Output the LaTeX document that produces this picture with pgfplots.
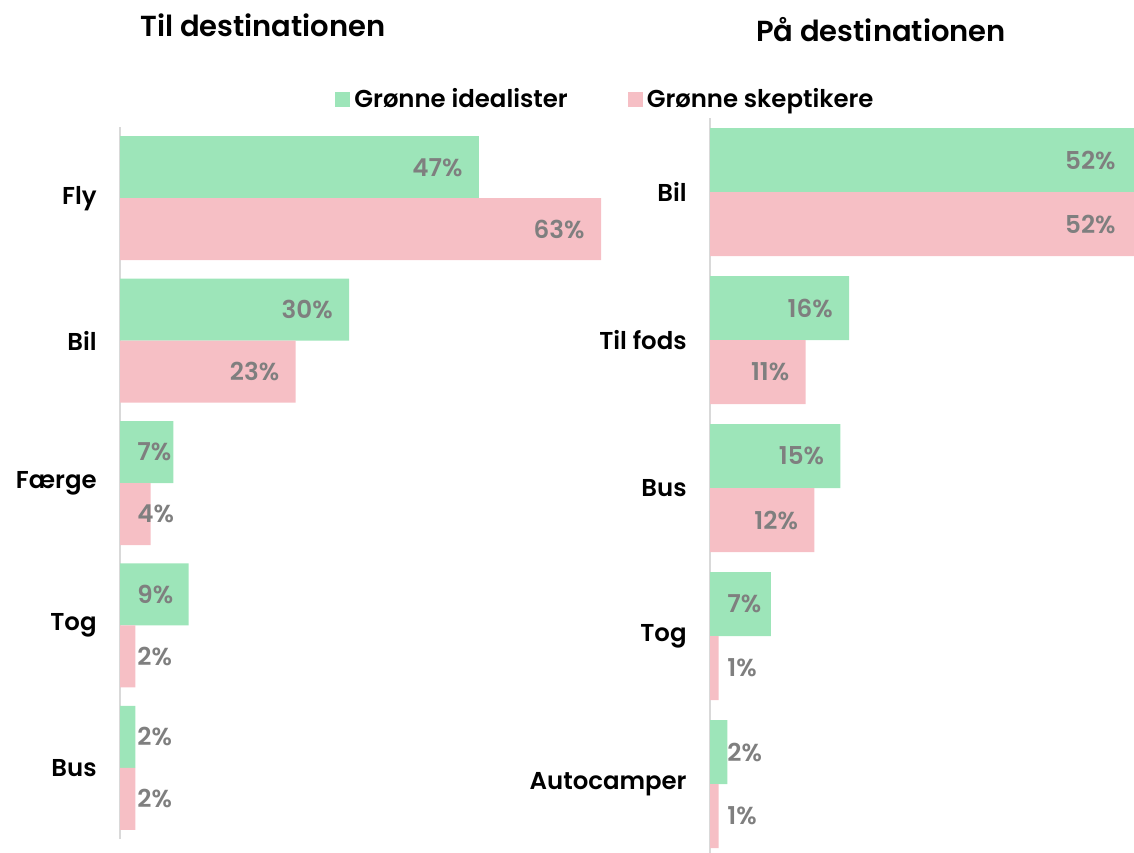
\documentclass[border=0pt]{standalone}
\usepackage{fontspec}
\setmainfont{Poppins}[BoldFont={Poppins SemiBold}]
\usepackage{pgfplots}
\pgfplotsset{compat=1.18}
\definecolor{idealgreen}{HTML}{9DE5B9}
\definecolor{skeppink}{HTML}{F6BFC5}
\definecolor{valgray}{HTML}{7F7F7F}
\definecolor{axisgray}{HTML}{D9D9D9}

\pgfplotsset{
  panel/.style={
    scale only axis, xmin=0, ymin=-0.5, ymax=4.5,
    hide x axis, axis y line*=left,
    y axis line style={draw=axisgray,line width=1pt,-},
    major tick length=0pt, ytick={0,1,2,3,4},
    yticklabel style={font=\bfseries\fontsize{12.2}{14}\selectfont,inner sep=0pt,xshift=-11.5pt},
    clip=false},
  endlab/.style={draw=none,mark=none,nodes near coords,point meta=explicit symbolic,
    nodes near coords style={font=\bfseries\fontsize{12.3}{14}\selectfont,text=valgray,inner sep=0pt,anchor=east,xshift=-8pt,yshift=#1}},
  startlab/.style={draw=none,mark=none,nodes near coords,point meta=explicit symbolic,
    nodes near coords style={font=\bfseries\fontsize{12.3}{14}\selectfont,text=valgray,inner sep=0pt,anchor=west,xshift=8.5pt,yshift=#1}},
}

\begin{document}
\begin{tikzpicture}
% left panel: Til destinationen
\begin{axis}[panel, at={(60pt,-63.5pt)}, anchor=north west,
  width=240.5pt, height=356pt, xmax=63,
  yticklabels={Bus,Tog,Færge,Bil,Fly},
  legend style={at={(0.447,1.039)},anchor=west,draw=none,fill=none,inner sep=0pt,
    font=\bfseries\fontsize{12.2}{14}\selectfont,
    /tikz/every even column/.append style={column sep=28pt}},
  legend columns=2,
  legend image code/.code={\fill[#1] (0pt,-3.75pt) rectangle (7.5pt,3.75pt);}]
  \addplot[xbar,bar width=31pt,bar shift=15.5pt,fill=idealgreen,draw=none]
    coordinates {(47,4) (30,3) (7,2) (9,1) (2,0)};
  \addlegendentry{Grønne idealister}
  \addplot[xbar,bar width=31pt,bar shift=-15.5pt,fill=skeppink,draw=none]
    coordinates {(63,4) (23,3) (4,2) (2,1) (2,0)};
  \addlegendentry{Grønne skeptikere}
  \addplot[endlab=15.5pt,forget plot] coordinates {(47,4)[47\%] (30,3)[30\%]};
  \addplot[startlab=15.5pt,forget plot] coordinates {(0,2)[7\%] (0,1)[9\%] (0,0)[2\%]};
  \addplot[endlab=-15.5pt,forget plot] coordinates {(63,4)[63\%] (23,3)[23\%]};
  \addplot[startlab=-15.5pt,forget plot] coordinates {(0,2)[4\%] (0,1)[2\%] (0,0)[2\%]};
\end{axis}
% right panel: På destinationen (Bil bars run past the right edge)
\begin{axis}[panel, at={(355pt,-59pt)}, anchor=north west,
  width=226pt, height=370pt, xmax=52,
  yticklabels={Autocamper,Tog,Bus,Til fods,Bil}]
  \addplot[xbar,bar width=32pt,bar shift=16pt,fill=idealgreen,draw=none]
    coordinates {(52,4) (16,3) (15,2) (7,1) (2,0)};
  \addplot[xbar,bar width=32pt,bar shift=-16pt,fill=skeppink,draw=none]
    coordinates {(52,4) (11,3) (12,2) (1,1) (1,0)};
  \addplot[endlab=16pt,nodes near coords style={xshift=-15pt}] coordinates {(52,4)[52\%]};
  \addplot[endlab=16pt] coordinates {(16,3)[16\%] (15,2)[15\%]};
  \addplot[startlab=16pt] coordinates {(0,1)[7\%] (0,0)[2\%]};
  \addplot[endlab=-16pt,nodes near coords style={xshift=-15pt}] coordinates {(52,4)[52\%]};
  \addplot[endlab=-16pt] coordinates {(11,3)[11\%] (12,2)[12\%]};
  \addplot[startlab=-16pt] coordinates {(0,1)[1\%] (0,0)[1\%]};
\end{axis}
\node[font=\bfseries\fontsize{14.5}{17}\selectfont] at (131.5pt,-12.5pt) {Til destinationen};
\node[font=\bfseries\fontsize{14.5}{17}\selectfont] at (440.5pt,-15pt) {På destinationen};
\pgfresetboundingbox
\useasboundingbox (0pt,0pt) rectangle (567pt,-426pt);
\end{tikzpicture}
\end{document}
